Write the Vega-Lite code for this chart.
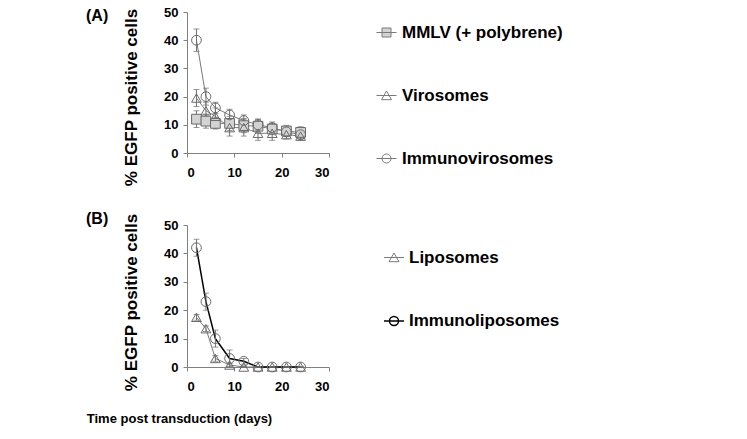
{
  "$schema": "https://vega.github.io/schema/vega-lite/v6.json",
  "background": "white",
  "padding": {"left": 86, "top": 6, "right": 5, "bottom": 5},
  "spacing": 25,
  "config": {
    "view": {"stroke": null},
    "font": "Liberation Sans",
    "axis": {
      "grid": false,
      "domainColor": "#808080",
      "tickColor": "#808080",
      "tickSize": 4,
      "labelFont": "Liberation Sans",
      "labelFontWeight": "bold",
      "labelFontSize": 13,
      "labelColor": "#000000",
      "titleFont": "Liberation Sans",
      "titleFontWeight": "bold",
      "titleColor": "#000000"
    },
    "legend": {
      "padding": 0,
      "labelFont": "Liberation Sans",
      "labelFontWeight": "bold",
      "labelFontSize": 17,
      "labelColor": "#000000",
      "labelLimit": 0,
      "symbolSize": 400,
      "symbolStrokeWidth": 1,
      "title": null
    }
  },
  "datasets": {
    "a": [
      {"s": "MMLV (+ polybrene)", "day": 2, "v": 12, "e": 3},
      {"s": "MMLV (+ polybrene)", "day": 4, "v": 11.3, "e": 2.5},
      {"s": "MMLV (+ polybrene)", "day": 6, "v": 10.5, "e": 2},
      {"s": "MMLV (+ polybrene)", "day": 9, "v": 10.5, "e": 2.5},
      {"s": "MMLV (+ polybrene)", "day": 12, "v": 9.7, "e": 2.5},
      {"s": "MMLV (+ polybrene)", "day": 15, "v": 9.5, "e": 2.5},
      {"s": "MMLV (+ polybrene)", "day": 18, "v": 8.5, "e": 2},
      {"s": "MMLV (+ polybrene)", "day": 21, "v": 7.8, "e": 2},
      {"s": "MMLV (+ polybrene)", "day": 24, "v": 7.3, "e": 2},
      {"s": "Virosomes", "day": 2, "v": 19.5, "e": 3},
      {"s": "Virosomes", "day": 4, "v": 15, "e": 3},
      {"s": "Virosomes", "day": 6, "v": 13, "e": 3},
      {"s": "Virosomes", "day": 9, "v": 9, "e": 3},
      {"s": "Virosomes", "day": 12, "v": 9, "e": 3},
      {"s": "Virosomes", "day": 15, "v": 7, "e": 2.5},
      {"s": "Virosomes", "day": 18, "v": 7, "e": 2.5},
      {"s": "Virosomes", "day": 21, "v": 6.5, "e": 1.5},
      {"s": "Virosomes", "day": 24, "v": 6, "e": 1.5},
      {"s": "Immunovirosomes", "day": 2, "v": 40, "e": 4},
      {"s": "Immunovirosomes", "day": 4, "v": 20, "e": 3},
      {"s": "Immunovirosomes", "day": 6, "v": 16, "e": 2},
      {"s": "Immunovirosomes", "day": 9, "v": 13.5, "e": 2},
      {"s": "Immunovirosomes", "day": 12, "v": 11.5, "e": 2},
      {"s": "Immunovirosomes", "day": 15, "v": 10, "e": 2},
      {"s": "Immunovirosomes", "day": 18, "v": 9, "e": 2},
      {"s": "Immunovirosomes", "day": 21, "v": 7.5, "e": 1.5},
      {"s": "Immunovirosomes", "day": 24, "v": 6.5, "e": 1.5}
    ],
    "b": [
      {"s": "Liposomes", "day": 2, "v": 17.5, "e": 1},
      {"s": "Liposomes", "day": 4, "v": 13.5, "e": 1},
      {"s": "Liposomes", "day": 6, "v": 3, "e": 1},
      {"s": "Liposomes", "day": 9, "v": 0.7, "e": 0.5},
      {"s": "Liposomes", "day": 12, "v": 0, "e": 0},
      {"s": "Liposomes", "day": 15, "v": 0, "e": 0},
      {"s": "Liposomes", "day": 18, "v": 0, "e": 0},
      {"s": "Liposomes", "day": 21, "v": 0, "e": 0},
      {"s": "Liposomes", "day": 24, "v": 0, "e": 0},
      {"s": "Immunoliposomes", "day": 2, "v": 42, "e": 3},
      {"s": "Immunoliposomes", "day": 4, "v": 23, "e": 3},
      {"s": "Immunoliposomes", "day": 6, "v": 10, "e": 3},
      {"s": "Immunoliposomes", "day": 9, "v": 3, "e": 3},
      {"s": "Immunoliposomes", "day": 12, "v": 2, "e": 1},
      {"s": "Immunoliposomes", "day": 15, "v": 0, "e": 0},
      {"s": "Immunoliposomes", "day": 18, "v": 0, "e": 0},
      {"s": "Immunoliposomes", "day": 21, "v": 0, "e": 0},
      {"s": "Immunoliposomes", "day": 24, "v": 0, "e": 0}
    ]
  },
  "vconcat": [
    {
      "width": 142,
      "height": 141,
      "title": {"text": "(A)", "anchor": "start", "frame": "group", "offset": -14, "dx": -101, "dy": 4, "fontSize": 16, "fontWeight": "bold", "font": "Liberation Sans", "color": "#000000"},
      "data": {"name": "a"},
      "encoding": {
        "x": {"field": "day", "type": "quantitative", "title": null, "scale": {"domain": [0, 30]}, "axis": {"values": [0, 10, 20, 30], "title": null, "labelPadding": 9}},
        "y": {"field": "v", "type": "quantitative", "title": "% EGFP positive cells", "scale": {"domain": [0, 50]}, "axis": {"values": [0, 10, 20, 30, 40, 50], "title": "% EGFP positive cells", "titleFontSize": 17, "titlePadding": 23, "titleY": 85, "labelPadding": 5}}
      },
      "layer": [
        {
          "mark": {"type": "line", "strokeWidth": 1},
          "encoding": {
            "stroke": {
              "field": "s", "type": "nominal",
              "scale": {"domain": ["MMLV (+ polybrene)", "Virosomes", "Immunovirosomes"], "range": ["#7a7a7a", "#7a7a7a", "#7a7a7a"]},
              "legend": {
                "orient": "none", "legendX": 189, "legendY": 10, "rowPadding": 44, "labelOffset": 5,
                "encode": {"symbols": {"update": {
                  "shape": {"signal": "datum.value === 'MMLV (+ polybrene)' ? 'M-1,0H1M-0.45,-0.45H0.45V0.45H-0.45Z' : datum.value === 'Virosomes' ? 'M-1,0H1M0,-0.45L0.5,0.42H-0.5Z' : 'M-1,0H1M-0.45,0A0.45,0.45,0,1,1,0.45,0A0.45,0.45,0,1,1,-0.45,0Z'"},
                  "fill": {"signal": "datum.value === 'MMLV (+ polybrene)' ? '#d3d3d3' : 'transparent'"}
                }}}
              }
            }
          }
        },
        {
          "mark": {"type": "errorbar", "color": "#707070", "ticks": {"size": 6, "color": "#707070"}},
          "encoding": {"yError": {"field": "e"}}
        },
        {
          "transform": [{"filter": "datum.s === 'MMLV (+ polybrene)'"}],
          "mark": {"type": "point", "shape": "square", "size": 95, "strokeWidth": 1, "opacity": 1, "filled": false, "fill": "#d3d3d3", "stroke": "#6a6a6a"}
        },
        {
          "transform": [{"filter": "datum.s === 'Virosomes'"}],
          "mark": {"type": "point", "shape": "triangle-up", "size": 95, "strokeWidth": 1, "opacity": 1, "filled": false, "fill": "transparent", "stroke": "#6a6a6a"}
        },
        {
          "transform": [{"filter": "datum.s === 'Immunovirosomes'"}],
          "mark": {"type": "point", "shape": "circle", "size": 95, "strokeWidth": 1, "opacity": 1, "filled": false, "fill": "transparent", "stroke": "#6a6a6a"}
        }
      ]
    },
    {
      "width": 142,
      "height": 142,
      "title": {"text": "(B)", "anchor": "start", "frame": "group", "offset": -14, "dx": -101, "dy": 0, "fontSize": 16, "fontWeight": "bold", "font": "Liberation Sans", "color": "#000000"},
      "data": {"name": "b"},
      "encoding": {
        "x": {"field": "day", "type": "quantitative", "title": "Time post transduction (days)", "scale": {"domain": [0, 30]}, "axis": {"values": [0, 10, 20, 30], "title": "Time post transduction (days)", "titleFontSize": 13, "titleX": -8, "titleY": 45, "titleBaseline": "top", "labelPadding": 9}},
        "y": {"field": "v", "type": "quantitative", "title": "% EGFP positive cells", "scale": {"domain": [0, 50]}, "axis": {"values": [0, 10, 20, 30, 40, 50], "title": "% EGFP positive cells", "titleFontSize": 17, "titlePadding": 23, "titleY": 77, "labelPadding": 5}}
      },
      "layer": [
        {
          "mark": {"type": "line"},
          "encoding": {
            "stroke": {
              "field": "s", "type": "nominal",
              "scale": {"domain": ["Liposomes", "Immunoliposomes"], "range": ["#7a7a7a", "#000000"]},
              "legend": {
                "orient": "none", "legendX": 196, "legendY": 22, "rowPadding": 44, "labelOffset": 4,
                "encode": {"symbols": {"update": {
                  "shape": {"signal": "datum.value === 'Liposomes' ? 'M-1,0H1M0,-0.45L0.5,0.42H-0.5Z' : 'M-1,0H1M-0.45,0A0.45,0.45,0,1,1,0.45,0A0.45,0.45,0,1,1,-0.45,0Z'"},
                  "fill": {"value": "transparent"},
                  "strokeWidth": {"signal": "datum.value === 'Immunoliposomes' ? 1.5 : 1"}
                }}}
              }
            },
            "strokeWidth": {"field": "s", "type": "nominal", "scale": {"domain": ["Liposomes", "Immunoliposomes"], "range": [1, 1.5]}, "legend": null}
          }
        },
        {
          "mark": {"type": "errorbar", "color": "#707070", "ticks": {"size": 6, "color": "#707070"}},
          "encoding": {"yError": {"field": "e"}}
        },
        {
          "transform": [{"filter": "datum.s === 'Liposomes'"}],
          "mark": {"type": "point", "shape": "triangle-up", "size": 95, "strokeWidth": 1, "opacity": 1, "filled": false, "fill": "transparent", "stroke": "#6a6a6a"}
        },
        {
          "transform": [{"filter": "datum.s === 'Immunoliposomes'"}],
          "mark": {"type": "point", "shape": "circle", "size": 95, "strokeWidth": 1, "opacity": 1, "filled": false, "fill": "transparent", "stroke": "#6a6a6a"}
        }
      ]
    }
  ],
  "resolve": {
    "scale": {"stroke": "independent", "strokeWidth": "independent"},
    "legend": {"stroke": "independent", "strokeWidth": "independent"}
  }
}
